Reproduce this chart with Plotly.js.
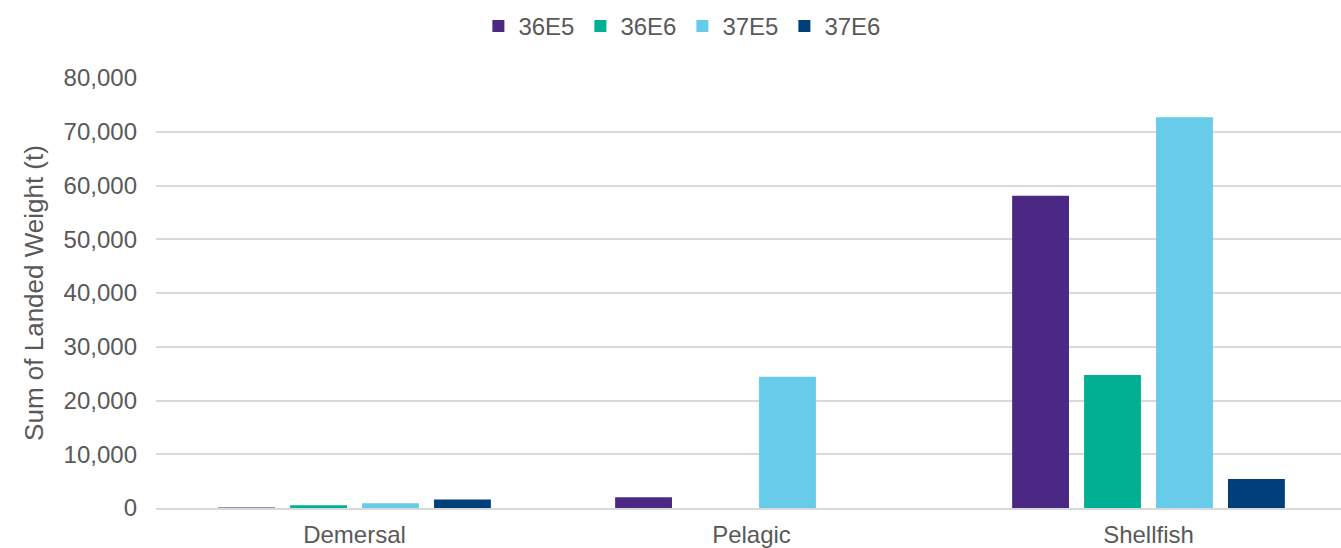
<!DOCTYPE html>
<html>
<head>
<meta charset="utf-8">
<script src="https://cdn.plot.ly/plotly-3.0.1.min.js"></script>
<style>html,body{margin:0;padding:0;background:#fff;overflow:hidden;}#chart{width:1347px;height:548px;}</style>
</head>
<body>
<div id="chart"></div>
<script>
const categories = ["Demersal", "Pelagic", "Shellfish"];
const seriesNames = ["36E5", "36E6", "37E5", "37E6"];
const v36E5 = [100, 2000, 58100];
const v36E6 = [500, 0, 24750];
const v37E5 = [900, 24400, 72700];
const v37E6 = [1600, 0, 5400];
const colors = ["#4B2884", "#00B092", "#66CCE9", "#003F7A"];
const values = [v36E5, v36E6, v37E5, v37E6];
const yTicks = [0, 10000, 20000, 30000, 40000, 50000, 60000, 70000, 80000];

const traces = seriesNames.map((n, i) => ({
  type: "bar", name: n, x: categories, y: values[i],
  marker: {color: colors[i], line: {width: 0}},
  hoverinfo: "x+y+name"
}));

const layout = {
  width: 1347, height: 548,
  margin: {l: 156, r: 0, t: 78, b: 40},
  paper_bgcolor: "#fff", plot_bgcolor: "#fff",
  font: {family: "Liberation Sans, Arial, sans-serif", color: "#595959", size: 24},
  barmode: "group", bargap: 0.275, bargroupgap: 0.21,
  showlegend: true,
  legend: {orientation: "h", xref: "container", x: 0.5066, xanchor: "center",
           yref: "container", y: 0.952, yanchor: "middle",
           font: {size: 24, color: "#595959"}, itemwidth: 20, entrywidth: 57, entrywidthmode: "pixels",
           traceorder: "normal"},
  xaxis: {type: "category", showgrid: false, showline: true, linecolor: "#D9D9D9", linewidth: 2,
          ticks: "", ticklabelstandoff: 4, tickfont: {size: 24, color: "#595959"}, fixedrange: true},
  yaxis: {range: [0, 80000], tickvals: yTicks, ticktext: yTicks.map(v => v.toLocaleString("en-US")),
          showgrid: true, gridcolor: "#D9D9D9", gridwidth: 2, zeroline: false,
          ticks: "", ticklen: 0, ticklabelstandoff: 18, tickfont: {size: 24, color: "#595959"},
          title: {text: "Sum of Landed Weight (t)", font: {size: 26, color: "#595959"}, standoff: 12}}
};
Plotly.newPlot("chart", traces, layout, {displayModeBar: false, staticPlot: true});
</script>
</body>
</html>
